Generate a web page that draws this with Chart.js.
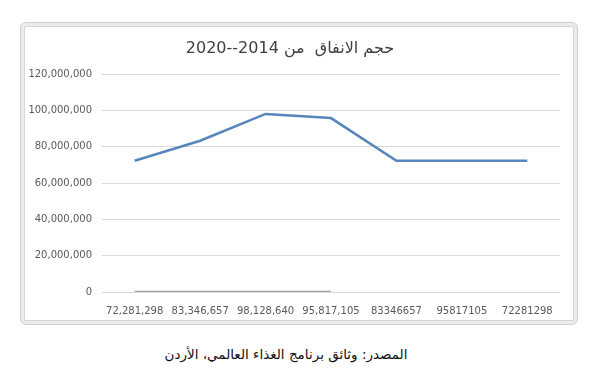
<!DOCTYPE html>
<html>
<head>
<meta charset="utf-8">
<script src="https://cdn.jsdelivr.net/npm/chart.js@4"></script>
<style>
body{margin:0;background:#fff;width:600px;height:380px;position:relative;overflow:hidden;}
#frame{position:absolute;left:20px;top:22px;width:556px;height:301px;border:1px solid #cfcfcf;border-radius:6px;box-shadow:inset 0 0 0 3px #ececec, inset 0 0 0 4px #d6d6d6;}
#wrap{position:absolute;left:0;top:0;width:600px;height:330px;}
#source{position:absolute;left:0;top:346px;width:572px;text-align:center;direction:rtl;font-family:"DejaVu Sans",sans-serif;font-size:13.5px;color:#111;}
</style>
</head>
<body>
<div id="frame"></div>
<div id="wrap"><canvas id="myChart" width="600" height="330"></canvas></div>
<div id="source">المصدر: وثائق برنامج الغذاء العالمي، الأردن</div>
<script>
// categories as printed on the x axis
const labels = ["72,281,298","83,346,657","98,128,640","95,817,105","83346657","95817105","72281298"];
// spending volume
const spending = [72281298,83346657,98128640,95817105,72281298,72281298,72281298];
// second (flat) series
const baseSeries = [0,0,0,0,null,null,null];

new Chart(document.getElementById("myChart"),{
type:"line",
data:{
labels:labels,
datasets:[{
label:"spending",
data:spending,
borderColor:"#5686bb",
borderWidth:2.5,
pointRadius:0,
tension:0,
fill:false
},{
label:"base",
data:baseSeries,
borderColor:"#a0a0a0",
borderWidth:2.5,
pointRadius:0,
fill:false
}]
},
options:{
responsive:false,
animation:false,
layout:{ padding:{ top:28, left:20, right:40, bottom:8 } },
plugins:{
legend:{ display:false },
tooltip:{ enabled:false },
title:{
display:true,
text:"حجم الانفاق  من 2014--2020",
color:"#404040",
font:{ family:"DejaVu Sans", size:16, weight:'normal' },
padding:{ top:11, bottom:16 }
}
},
scales:{
x:{
offset:true,
grid:{ display:false },
border:{ display:false },
ticks:{ color:"#595959", font:{ family:"DejaVu Sans", size:10 }, maxRotation:0, padding:5 },
afterFit:(s)=>{ s.height = 30; }
},
y:{
min:0,
max:120000000,
ticks:{ stepSize:20000000, color:"#595959", font:{ family:"DejaVu Sans", size:10 }, padding:10,
callback:(v)=>v.toLocaleString('en-US') },
grid:{ color:"#d9d9d9", drawTicks:false },
border:{ display:false },
afterFit:(s)=>{ s.width = 82; }
}
}
}
});
</script>
</body>
</html>
